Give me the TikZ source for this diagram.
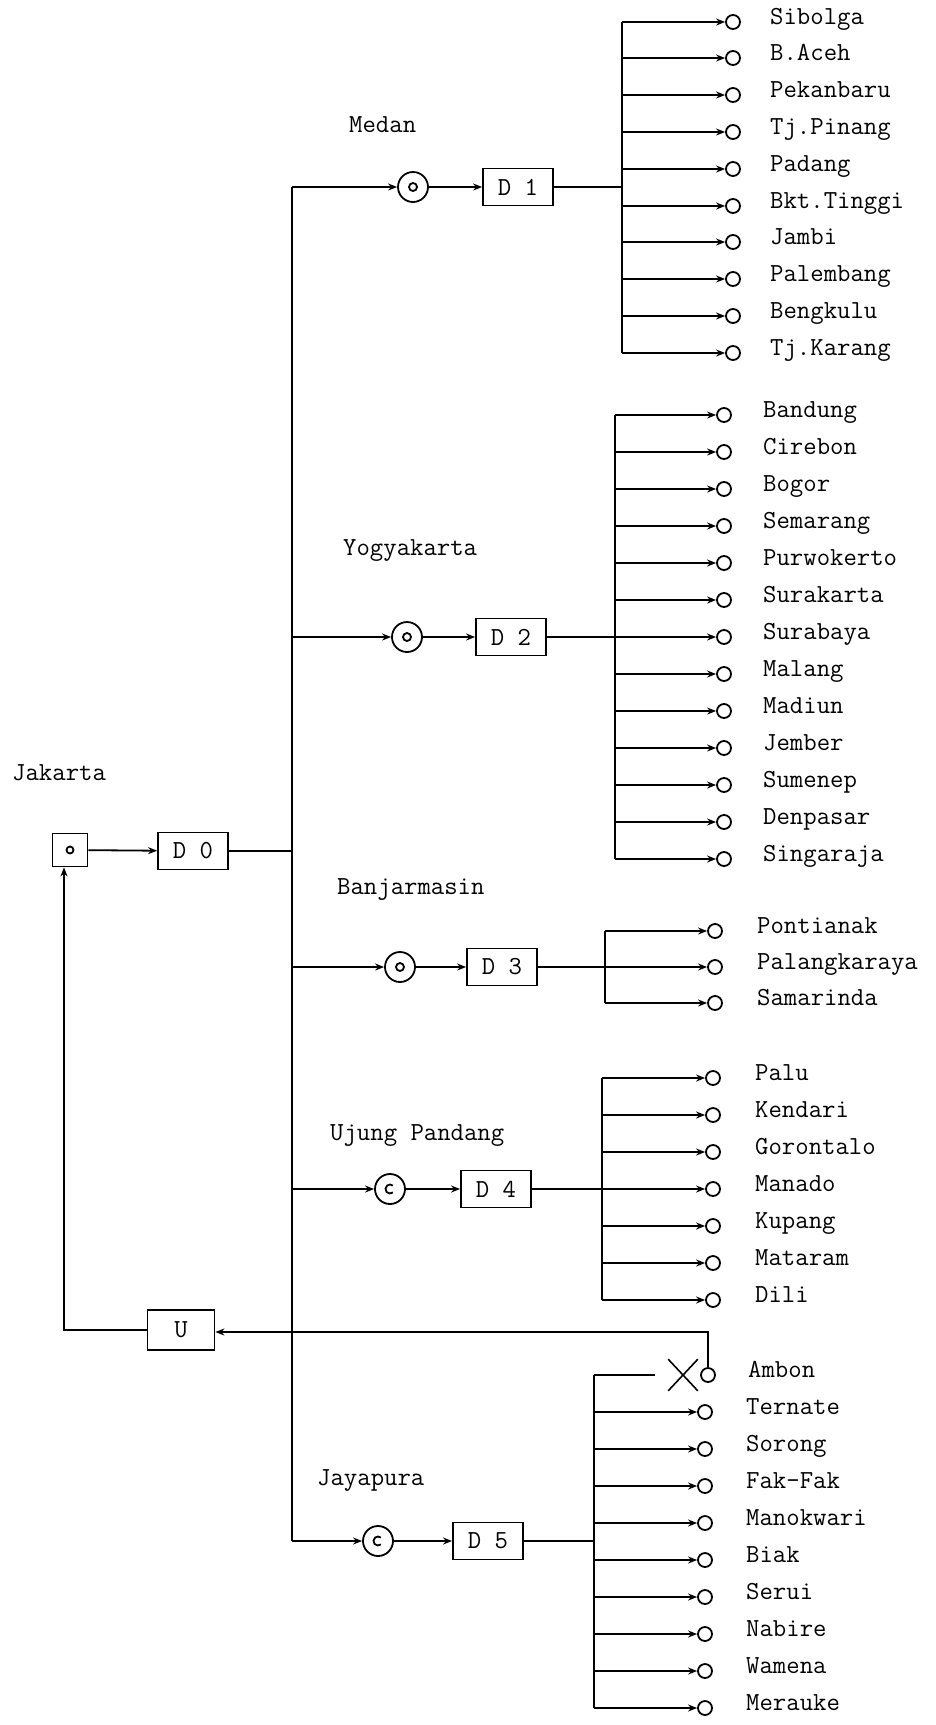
\documentclass[tikz,border=0pt]{standalone}
\usetikzlibrary{arrows.meta,shapes.misc}
\newcommand\lblfont{\fontsize{26}{30}\selectfont\ttfamily}
\begin{document}
\begin{tikzpicture}[x=1pt,y=-1pt,
  ln/.style={line width=1.8pt},
  arr/.style={ln,-{Stealth[length=9pt,width=7pt]}},
  leaf/.style={circle,draw,line width=1.8pt,minimum size=14pt,inner sep=0pt},
  hub/.style={circle,draw,line width=1.8pt,minimum size=30pt,inner sep=0pt},
  dbox/.style={draw,line width=1.8pt,minimum width=70pt,minimum height=37pt,inner sep=0pt,font=\lblfont},
  lbl/.style={font=\lblfont,anchor=mid west,inner sep=0pt},
]
\useasboundingbox (0,0) rectangle (936,1725);

% ---------- Jakarta ----------
\node[lbl] (jklbl) at (12,778) {Jakarta};
\node[draw,line width=1.8pt,minimum width=35pt,minimum height=33pt,inner sep=0pt] (jk) at (70,850) {};
\draw[ln] (jk.center) circle (3.5);
\node[dbox] (d0) at (193,851) {D 0};
\draw[arr] (jk) -- (d0);
\coordinate (t0) at (292,851);
\draw[ln] (d0.east) -- (t0);

% trunk
\coordinate (ttop) at (292,187);
\coordinate (tbot) at (292,1541);
\draw[ln] (ttop) -- (tbot);

% ---------- Medan ----------
\node[lbl] (medan) at (349,130) {Medan};
\node[hub] (c1) at (413,187) {};
\draw[ln] (c1.center) circle (4);
\node[dbox] (d1) at (518,187) {D 1};
\draw[arr] (ttop) -- (c1);
\draw[arr] (c1) -- (d1);
\coordinate (j1) at (622,187);
\draw[ln] (d1.east) -- (j1);
\foreach \n [count=\i from 0] in {Sibolga,B.Aceh,Pekanbaru,Tj.Pinang,Padang,Bkt.Tinggi,Jambi,Palembang,Bengkulu,Tj.Karang}{
  \pgfmathtruncatemacro\yy{22+36.8*\i}
  \coordinate (b1-\i) at (622,\yy);
  \node[leaf] (l1-\i) at (733,\yy) {};
  \node[lbl] (n1-\i) at (770,\yy) {\n};
  \draw[arr] (b1-\i) -- (l1-\i);
}
\draw[ln] (b1-0) -- (b1-9);

% ---------- Yogyakarta ----------
\node[lbl] (yogya) at (343,553) {Yogyakarta};
\coordinate (t2) at (292,637);
\node[hub] (c2) at (407,637) {};
\draw[ln] (c2.center) circle (4);
\node[dbox] (d2) at (511,637) {D 2};
\draw[arr] (t2) -- (c2);
\draw[arr] (c2) -- (d2);
\coordinate (j2) at (615,637);
\draw[ln] (d2.east) -- (j2);
\foreach \n [count=\i from 0] in {Bandung,Cirebon,Bogor,Semarang,Purwokerto,Surakarta,Surabaya,Malang,Madiun,Jember,Sumenep,Denpasar,Singaraja}{
  \pgfmathtruncatemacro\yy{415+37*\i}
  \coordinate (b2-\i) at (615,\yy);
  \node[leaf] (l2-\i) at (724,\yy) {};
  \node[lbl] (n2-\i) at (763,\yy) {\n};
  \draw[arr] (b2-\i) -- (l2-\i);
}
\draw[ln] (b2-0) -- (b2-12);

% ---------- Banjarmasin ----------
\node[lbl] (banjar) at (337,892) {Banjarmasin};
\coordinate (t3) at (292,967);
\node[hub] (c3) at (400,967) {};
\draw[ln] (c3.center) circle (4);
\node[dbox] (d3) at (502,967) {D 3};
\draw[arr] (t3) -- (c3);
\draw[arr] (c3) -- (d3);
\coordinate (j3) at (605,967);
\draw[ln] (d3.east) -- (j3);
\foreach \n [count=\i from 0] in {Pontianak,Palangkaraya,Samarinda}{
  \pgfmathtruncatemacro\yy{931+36*\i}
  \coordinate (b3-\i) at (605,\yy);
  \node[leaf] (l3-\i) at (715,\yy) {};
  \node[lbl] (n3-\i) at (757,\yy) {\n};
  \draw[arr] (b3-\i) -- (l3-\i);
}
\draw[ln] (b3-0) -- (b3-2);

% ---------- Ujung Pandang ----------
\node[lbl] (ujung) at (330,1138) {Ujung Pandang};
\coordinate (t4) at (292,1189);
\node[hub] (c4) at (390,1189) {};
\draw[ln] ([shift={(50:4.5)}]c4.center) arc (50:310:4.5);
\node[dbox] (d4) at (496,1189) {D 4};
\draw[arr] (t4) -- (c4);
\draw[arr] (c4) -- (d4);
\coordinate (j4) at (602,1189);
\draw[ln] (d4.east) -- (j4);
\foreach \n [count=\i from 0] in {Palu,Kendari,Gorontalo,Manado,Kupang,Mataram,Dili}{
  \pgfmathtruncatemacro\yy{1078+37*\i}
  \coordinate (b4-\i) at (602,\yy);
  \node[leaf] (l4-\i) at (713,\yy) {};
  \node[lbl] (n4-\i) at (755,\yy) {\n};
  \draw[arr] (b4-\i) -- (l4-\i);
}
\draw[ln] (b4-0) -- (b4-6);

% ---------- Jayapura ----------
\node[lbl] (jaya) at (317,1483) {Jayapura};
\node[hub] (c5) at (378,1541) {};
\draw[ln] ([shift={(50:4.5)}]c5.center) arc (50:310:4.5);
\node[dbox] (d5) at (488,1541) {D 5};
\draw[arr] (tbot) -- (c5);
\draw[arr] (c5) -- (d5);
\coordinate (j5) at (594,1541);
\draw[ln] (d5.east) -- (j5);
% Ambon (cut off)
\coordinate (b5-0) at (594,1375);
\coordinate (amb-end) at (655,1375);
\node[cross out,draw,line width=1.6pt,minimum width=28pt,minimum height=30pt,inner sep=0pt] (ambx) at (683,1375) {};
\node[leaf] (l5-0) at (708,1375) {};
\node[lbl] (n5-0) at (748,1375) {Ambon};
\draw[ln] (b5-0) -- (amb-end);
\foreach \n [count=\i from 1] in {Ternate,Sorong,Fak-Fak,Manokwari,Biak,Serui,Nabire,Wamena,Merauke}{
  \pgfmathtruncatemacro\yy{1375+37.1*\i}
  \coordinate (b5-\i) at (594,\yy);
  \node[leaf] (l5-\i) at (705,\yy) {};
  \node[lbl] (n5-\i) at (746,\yy) {\n};
  \draw[arr] (b5-\i) -- (l5-\i);
}
\draw[ln] (b5-0) -- (b5-9);

% ---------- U feedback ----------
\node[draw,line width=1.8pt,minimum width=67pt,minimum height=40pt,inner sep=0pt,font=\lblfont] (u) at (181,1330) {U};
\coordinate (ur) at (708,1332);
\coordinate (ul) at (64,1330);
\draw[arr] (l5-0.north) -- (ur) -- (u.east |- ur);
\draw[arr] (u.west) -- (ul) -- (ul |- jk.south);

\end{tikzpicture}
\end{document}
